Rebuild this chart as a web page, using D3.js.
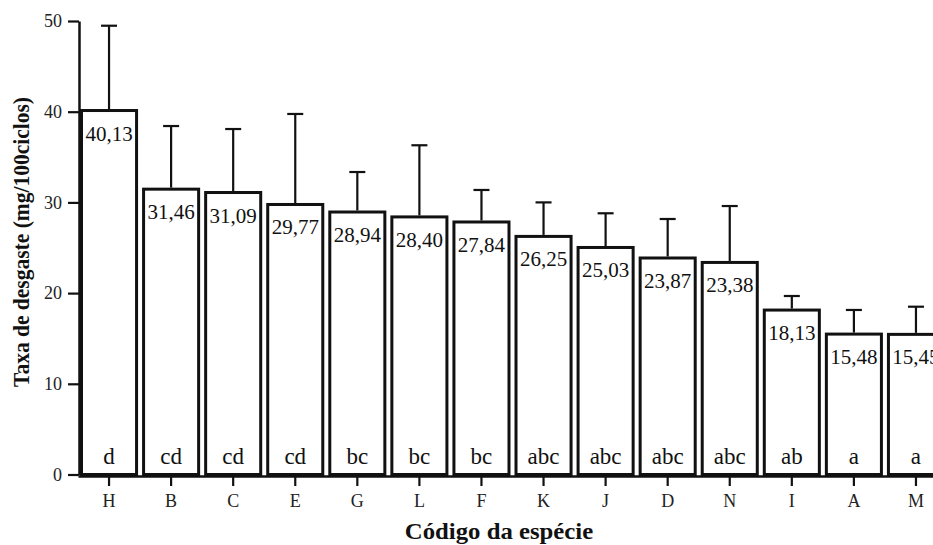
<!DOCTYPE html>
<html>
<head>
<meta charset="utf-8">
<script src="https://cdn.jsdelivr.net/npm/d3@7"></script>
<style>
  body { margin: 0; background: #fff; }
  svg { display: block; }
</style>
</head>
<body>
<figure id="bar" style="margin:0"></figure>
<script>
// species codes, mean wear rate, error (upper) and Tukey letters
const codes = ["H", "B", "C", "E", "G", "L", "F", "K", "J", "D", "N", "I", "A", "M"];
const means = [40.13, 31.46, 31.09, 29.77, 28.94, 28.40, 27.84, 26.25, 25.03, 23.87, 23.38, 18.13, 15.48, 15.45];
const errs = [9.35, 6.96, 7.0, 9.98, 4.41, 7.9, 3.53, 3.75, 3.77, 4.3, 6.22, 1.55, 2.66, 3.05];
const groups = ["d", "cd", "cd", "cd", "bc", "bc", "bc", "abc", "abc", "abc", "abc", "ab", "a", "a"];
const yTicks = [0, 10, 20, 30, 40, 50];

const width = 933, height = 545;
const font = "'Liberation Serif', 'Times New Roman', serif";

const data = codes.map((c, i) => ({ code: c, mean: means[i], err: errs[i], grp: groups[i] }));

const svg = d3.select("figure#bar")
  .append("svg")
  .attr("width", width)
  .attr("height", height);

// X band scale
const x = d3.scaleBand()
  .domain(codes)
  .range([78, 947])
  .paddingInner(0.113)
  .paddingOuter(0.0565);

// Y linear scale
const y = d3.scaleLinear()
  .domain([0, 50])
  .range([474.5, 21]);

// bars
svg.selectAll("rect.bar")
  .data(data)
  .enter()
  .append("rect")
  .attr("class", "bar")
  .attr("x", d => x(d.code))
  .attr("y", d => y(d.mean))
  .attr("width", x.bandwidth())
  .attr("height", d => y(0) - y(d.mean))
  .attr("fill", "#fff")
  .attr("stroke", "#111")
  .attr("stroke-width", 3);

// error bars
const cx = d => x(d.code) + x.bandwidth() / 2;
svg.selectAll("line.err")
  .data(data)
  .enter()
  .append("line")
  .attr("class", "err")
  .attr("x1", cx).attr("x2", cx)
  .attr("y1", d => y(d.mean) - 1.5)
  .attr("y2", d => y(d.mean + d.err))
  .attr("stroke", "#111")
  .attr("stroke-width", 2.2);

svg.selectAll("line.cap")
  .data(data)
  .enter()
  .append("line")
  .attr("class", "cap")
  .attr("x1", d => cx(d) - 8).attr("x2", d => cx(d) + 8)
  .attr("y1", d => y(d.mean + d.err))
  .attr("y2", d => y(d.mean + d.err))
  .attr("stroke", "#111")
  .attr("stroke-width", 2.2);

// value labels
svg.selectAll("text.val")
  .data(data)
  .enter()
  .append("text")
  .attr("class", "val")
  .attr("x", cx)
  .attr("y", d => y(d.mean) + 30)
  .attr("text-anchor", "middle")
  .style("font-family", font)
  .style("font-size", "21px")
  .attr("fill", "#111")
  .text(d => d.mean.toFixed(2).replace(".", ","));

// group letters
svg.selectAll("text.grp")
  .data(data)
  .enter()
  .append("text")
  .attr("class", "grp")
  .attr("x", cx)
  .attr("y", y(0) - 11)
  .attr("text-anchor", "middle")
  .style("font-family", font)
  .style("font-size", "23px")
  .attr("fill", "#111")
  .text(d => d.grp);

// X axis
const xAxis = svg.append("g")
  .attr("transform", "translate(0," + (y(0) + 1.5) + ")")
  .call(d3.axisBottom(x).tickSize(10).tickSizeOuter(0).tickPadding(8));
xAxis.select(".domain").attr("stroke", "#111").attr("stroke-width", 2.5);
xAxis.selectAll(".tick line").attr("stroke", "#111").attr("stroke-width", 2.2);
xAxis.selectAll("text")
  .style("font-family", font)
  .style("font-size", "18px")
  .attr("fill", "#222");

// Y axis
const yAxis = svg.append("g")
  .attr("transform", "translate(79,0)")
  .call(d3.axisLeft(y).tickValues(yTicks).tickSize(11).tickSizeOuter(0).tickPadding(6));
yAxis.select(".domain").attr("stroke", "#111").attr("stroke-width", 2.5);
yAxis.selectAll(".tick line").attr("stroke", "#111").attr("stroke-width", 2.2);
yAxis.selectAll("text")
  .style("font-family", font)
  .style("font-size", "18px")
  .attr("fill", "#222");

// axis titles (the original is a little stretched sideways)
svg.append("text")
  .attr("transform", "translate(29,242) scale(1.1,1) rotate(-90)")
  .attr("text-anchor", "middle")
  .style("font-family", font)
  .style("font-size", "21.5px")
  .style("font-weight", "bold")
  .attr("fill", "#111")
  .text("Taxa de desgaste (mg/100ciclos)");

svg.append("text")
  .attr("transform", "translate(499,539) scale(1.1,1)")
  .attr("text-anchor", "middle")
  .style("font-family", font)
  .style("font-size", "22.5px")
  .style("font-weight", "bold")
  .attr("fill", "#111")
  .text("Código da espécie");
</script>
</body>
</html>
